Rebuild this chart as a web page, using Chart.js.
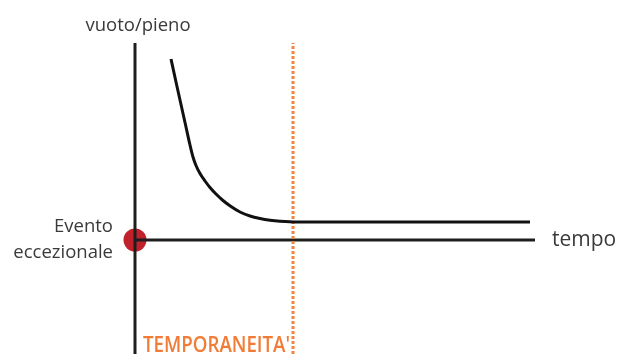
<!DOCTYPE html>
<html>
<head>
<meta charset="utf-8">
<script src="https://cdn.jsdelivr.net/npm/chart.js@4.4.1/dist/chart.umd.min.js"></script>
<style>
  html, body { margin: 0; padding: 0; background: #fff; overflow: hidden; }
  #wrap { width: 617px; height: 354px; position: relative; }
  #chart { display: block; width: 617px; height: 354px; }
</style>
</head>
<body>
<div id="wrap"><canvas id="chart" width="617" height="354"></canvas></div>
<script>
/* curva vuoto/pieno nel tempo */
const curveX = [9, 10.25, 11.5, 12.75, 13.75, 14.5, 15.25, 16.25, 17.5, 18.75, 20.25, 22, 24, 26.25, 28.75, 31.25, 33.75, 36.25, 40.5, 98.75];
const curveY = [45.25, 39.5, 33.875, 28.25, 23.75, 20.75, 18.625, 16.625, 14.75, 13.125, 11.5, 9.875, 8.375, 7, 6, 5.375, 4.95, 4.7, 4.5, 4.5];

/* assi e riferimenti */
const xRange = [0, 100];
const yRange = [-28.5, 49.25];
const eventPoint = [0, 0];
const temporaneitaX = 39.5;

/* testi */
const yTitle = "vuoto/pieno";
const xTitle = "tempo";
const eventLabel = ["Evento", "eccezionale"];
const temporaneitaLabel = "TEMPORANEITA'";

const pts = (xs, ys) => xs.map((x, i) => ({ x, y: ys[i] }));

const textPlugin = {
  id: "testi",
  afterDraw(chart) {
    const ctx = chart.ctx;
    const sx = chart.scales.x, sy = chart.scales.y;
    const ox = sx.getPixelForValue(0);
    const oy = sy.getPixelForValue(0);
    const top = chart.chartArea.top;
    const right = sx.getPixelForValue(xRange[1]);

    ctx.save();
    ctx.fillStyle = "#3a3a3a";
    ctx.textBaseline = "middle";

    ctx.font = "18.5px 'Open Sans'";
    ctx.textAlign = "center";
    ctx.fillText(yTitle, ox + 3, top - 17, 110);

    ctx.textAlign = "right";
    ctx.fillText(eventLabel[0], ox - 22, oy - 13, 62);
    ctx.fillText(eventLabel[1], ox - 22, oy + 13, 102);

    ctx.font = "21px 'Open Sans'";
    ctx.textAlign = "left";
    ctx.fillText(xTitle, right + 17, oy);

    ctx.fillStyle = "#f27b35";
    ctx.font = "600 21px 'Open Sans'";
    ctx.fillText(temporaneitaLabel, ox + 8, chart.chartArea.bottom - 8, 147);
    ctx.restore();
  }
};

new Chart(document.getElementById("chart"), {
  type: "scatter",
  data: {
    datasets: [
      {
        data: pts(curveX, curveY),
        showLine: true,
        borderColor: "#111",
        borderWidth: 3,
        pointRadius: 0,
        cubicInterpolationMode: "monotone",
        clip: false
      },
      {
        data: pts([temporaneitaX, temporaneitaX], yRange),
        showLine: true,
        borderColor: "#f4843f",
        borderWidth: 3,
        borderDash: [3, 2],
        pointRadius: 0,
        clip: false
      },
      {
        data: pts([0, 0], yRange),
        showLine: true,
        borderColor: "#1e1e1e",
        borderWidth: 3,
        pointRadius: 0,
        clip: false
      },
      {
        data: pts(xRange, [0, 0]),
        showLine: true,
        borderColor: "#1e1e1e",
        borderWidth: 3,
        pointRadius: 0,
        clip: false
      },
      {
        data: [{ x: eventPoint[0], y: eventPoint[1] }],
        pointRadius: 11.5,
        pointBackgroundColor: "#c1212b",
        pointBorderWidth: 0,
        clip: false
      }
    ]
  },
  options: {
    responsive: false,
    maintainAspectRatio: false,
    animation: false,
    layout: { autoPadding: false, padding: { left: 135, right: 82, top: 43, bottom: 0 } },
    plugins: { legend: { display: false }, tooltip: { enabled: false } },
    scales: {
      x: { type: "linear", min: xRange[0], max: xRange[1], display: false },
      y: { type: "linear", min: yRange[0], max: yRange[1], display: false }
    }
  },
  plugins: [textPlugin]
});
</script>
</body>
</html>
